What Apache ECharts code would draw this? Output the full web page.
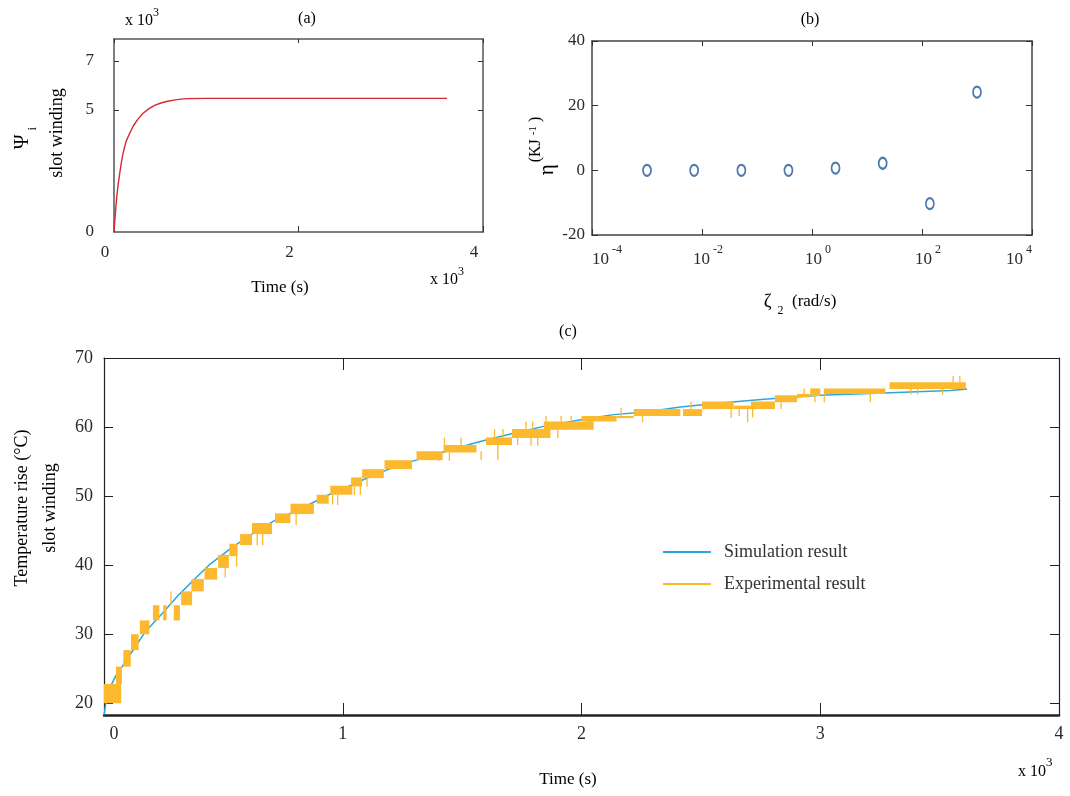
<!DOCTYPE html>
<html><head><meta charset="utf-8">
<script src="https://cdn.jsdelivr.net/npm/echarts@6/dist/echarts.min.js"></script>
<style>html,body{margin:0;padding:0;background:#fff}#c{width:1070px;height:796px}</style>
</head><body><div id="c"></div>
<script>
// ---------- data ----------
// (a) Psi_i slot winding (x10^3) vs time (x10^3 s)
const psiTime  = [0, 0.01, 0.02, 0.03, 0.045, 0.062, 0.08, 0.10, 0.13, 0.17, 0.21, 0.26, 0.315, 0.38, 0.44, 0.50, 0.58, 0.65, 0.72, 0.80, 1.0, 2.0, 3.0, 3.61];
const psiValue = [0, 0.5, 1.0, 1.45, 1.95, 2.4, 2.85, 3.25, 3.7, 4.04, 4.35, 4.62, 4.86, 5.05, 5.18, 5.27, 5.35, 5.40, 5.44, 5.46, 5.47, 5.47, 5.47, 5.47];
// (b) eta vs zeta_2 (rad/s)
const zetaValues = [0.001, 0.0072, 0.052, 0.373, 2.68, 19.3, 139, 1000];
const etaValues  = [0, 0, 0, 0, 0.7, 2.2, -10.3, 24.2];
// (c) temperature rise, time in x10^3 s
const simTime = [0, 0.01, 0.027, 0.05, 0.076, 0.118, 0.174, 0.244, 0.313, 0.383, 0.446, 0.523, 0.593, 0.662, 0.732, 0.802, 0.872, 0.941, 1.039, 1.088, 1.186, 1.297, 1.423, 1.563, 1.702, 1.842, 2.023, 2.135, 2.275, 2.414, 2.582, 2.777, 3.0, 3.238, 3.545, 3.615];
const simTemp = [18.3, 20.5, 22.4, 24.0, 25.3, 27.5, 30.4, 33.0, 35.7, 38.1, 40.2, 42.2, 43.9, 45.4, 46.8, 47.8, 49.0, 50.2, 51.6, 52.4, 53.8, 55.1, 56.4, 57.8, 59.0, 60.1, 61.2, 61.8, 62.2, 62.9, 63.5, 64.05, 64.6, 64.9, 65.3, 65.5];
// experimental record: dense toggling bands [tStart, tEnd, low, high]
const expBlocks = [
 [0.000, 0.072, 20.0, 22.8], [0.050, 0.075, 22.8, 25.3], [0.081, 0.112, 25.3, 27.7],
 [0.113, 0.145, 27.7, 30.0], [0.150, 0.190, 30.0, 32.0], [0.205, 0.232, 32.0, 34.2],
 [0.248, 0.262, 32.0, 34.2], [0.292, 0.318, 32.0, 34.2], [0.323, 0.369, 34.2, 36.2],
 [0.366, 0.418, 36.2, 38.0], [0.421, 0.474, 37.9, 39.6], [0.478, 0.523, 39.6, 41.5],
 [0.525, 0.558, 41.3, 43.1], [0.570, 0.620, 42.9, 44.5], [0.620, 0.704, 44.5, 46.1],
 [0.716, 0.781, 46.1, 47.5], [0.781, 0.879, 47.4, 48.9], [0.891, 0.941, 48.9, 50.2],
 [0.948, 1.040, 50.2, 51.5], [1.035, 1.081, 51.4, 52.7], [1.081, 1.172, 52.6, 53.9],
 [1.175, 1.290, 53.9, 55.2], [1.309, 1.418, 55.2, 56.5], [1.423, 1.560, 56.3, 57.4],
 [1.600, 1.709, 57.4, 58.5], [1.709, 1.870, 58.4, 59.7], [1.842, 2.051, 59.6, 60.8],
 [2.000, 2.147, 60.8, 61.6], [2.147, 2.219, 61.3, 61.6], [2.219, 2.414, 61.6, 62.6],
 [2.425, 2.505, 61.6, 62.6], [2.505, 2.637, 62.6, 63.7], [2.637, 2.710, 62.6, 63.1],
 [2.710, 2.810, 62.6, 63.7], [2.810, 2.903, 63.6, 64.6], [2.903, 2.958, 64.3, 64.8],
 [2.958, 3.000, 64.5, 65.6], [3.015, 3.273, 64.8, 65.6], [3.290, 3.610, 65.5, 66.5]
];
// isolated spikes [t, low, high]
const expSpikes = [
 [0.278, 34.2, 36.2], [0.505, 38.2, 41.5], [0.553, 39.8, 43.0], [0.639, 42.9, 44.5],
 [0.662, 42.9, 44.5], [0.802, 45.8, 47.4], [0.955, 48.8, 50.2], [0.976, 48.7, 50.2],
 [1.039, 51.5, 52.6], [1.046, 50.2, 51.4], [1.071, 50.2, 51.4], [1.099, 51.4, 52.6],
 [1.402, 55.1, 56.3], [1.423, 56.5, 58.5], [1.444, 55.1, 56.3], [1.493, 56.5, 58.5],
 [1.577, 55.2, 56.5], [1.633, 58.5, 59.7], [1.647, 55.2, 57.4], [1.668, 58.5, 59.7],
 [1.730, 57.4, 58.4], [1.765, 59.7, 60.8], [1.786, 57.3, 58.4], [1.793, 59.7, 60.8],
 [1.814, 57.3, 58.4], [1.849, 60.8, 61.6], [1.898, 58.4, 59.6], [1.912, 60.8, 61.6],
 [1.954, 60.8, 61.6], [2.163, 61.6, 62.75], [2.253, 60.7, 61.6], [2.456, 62.6, 63.7],
 [2.624, 61.3, 62.6], [2.658, 61.6, 62.6], [2.693, 60.7, 62.6], [2.714, 61.4, 62.6],
 [2.798, 62.6, 63.6], [2.833, 62.6, 63.6], [2.930, 64.6, 65.6], [2.975, 63.6, 64.5],
 [3.014, 63.6, 64.8], [3.207, 63.6, 64.8], [3.377, 64.7, 65.5], [3.405, 64.7, 65.5],
 [3.510, 64.7, 65.5], [3.554, 66.5, 67.4], [3.582, 66.5, 67.4]
];
const psiLabelTicks = [0, 5, 7];
const psiMarkTicks = [5, 7];
const tempTicks = [20, 30, 40, 50, 60, 70];

// ---------- chart ----------
const FONT = 'Liberation Serif';
const TXT = '#2a2a2a';
const chart = echarts.init(document.getElementById('c'));

function lbl(size, extra) { return Object.assign({fontFamily: FONT, fontSize: size, color: TXT}, extra || {}); }
function x10(lh, supSize) {
  return {text: '{t|x 10}{s|3}', align: 'left', verticalAlign: 'middle',
    rich: {t: lbl(16, {lineHeight: lh, verticalAlign: 'bottom'}), s: lbl(supSize, {lineHeight: 10, verticalAlign: 'top'})}};
}

const expData = expBlocks.concat(expSpikes.map(s => [s[0], s[0], s[1], s[2]]));

const option = {
  animation: false,
  backgroundColor: '#fff',
  grid: [
    {left: 114, top: 39, width: 369, height: 193},
    {left: 592, top: 41, width: 440, height: 194},
    {left: 104, top: 358, width: 955, height: 357}
  ],
  xAxis: [
    {gridIndex: 0, type: 'value', min: 0, max: 4, interval: 2,
     axisLine: {onZero: false, lineStyle: {color: '#555', width: 1.5}},
     axisTick: {inside: true, length: 6, lineStyle: {color: '#333'}},
     axisLabel: lbl(17, {margin: 12, padding: [0, 18, 0, 0]}), splitLine: {show: false}},
    {gridIndex: 0, type: 'value', position: 'top', min: 0, max: 4, interval: 2,
     axisLine: {onZero: false, lineStyle: {color: '#555', width: 1.5}},
     axisTick: {inside: true, length: 4, lineStyle: {color: '#333'}},
     axisLabel: {show: false}, splitLine: {show: false}},
    {gridIndex: 1, type: 'log', logBase: 10, min: 1e-4, max: 1e4, interval: 2,
     axisLine: {onZero: false, lineStyle: {color: '#444', width: 1.5}},
     axisTick: {inside: true, length: 6, lineStyle: {color: '#333'}},
     minorTick: {show: false}, splitLine: {show: false},
     axisLabel: {margin: 9, alignMinLabel: 'left', alignMaxLabel: 'right',
       formatter: function (v) {
         const e = Math.round(Math.log10(v));
         const s = e < 0 ? '-' + Math.abs(e) : String(e);
         const k = (e === -4 || e === 4) ? 'b' : 'bm';
         return '{' + k + '|10}{s|' + s + '}';
       },
       rich: {
         b: lbl(17, {lineHeight: 24, verticalAlign: 'bottom'}),
         bm: lbl(17, {lineHeight: 24, verticalAlign: 'bottom', padding: [0, 0, 0, 12]}),
         s: lbl(12, {lineHeight: 10, verticalAlign: 'top', padding: [0, 0, 0, 3]})
       }}},
    {gridIndex: 1, type: 'log', logBase: 10, min: 1e-4, max: 1e4, interval: 2, position: 'top',
     axisLine: {onZero: false, lineStyle: {color: '#444', width: 1.5}},
     axisTick: {inside: true, length: 5, lineStyle: {color: '#333'}},
     axisLabel: {show: false}, splitLine: {show: false}, minorTick: {show: false}},
    {gridIndex: 2, type: 'value', min: 0, max: 4, interval: 1,
     axisLine: {onZero: false, lineStyle: {color: '#222', width: 2.5}},
     axisTick: {inside: true, length: 12, lineStyle: {color: '#222'}},
     axisLabel: {margin: 10,
       formatter: function (v) { return v === 0 ? '{z|0}' : '{n|' + v + '}'; },
       rich: {z: lbl(18, {padding: [0, 0, 0, 20]}), n: lbl(18)}},
     splitLine: {show: false}},
    {gridIndex: 2, type: 'value', position: 'top', min: 0, max: 4, interval: 1,
     axisLine: {onZero: false, lineStyle: {color: '#222', width: 1.2}},
     axisTick: {inside: true, length: 12, lineStyle: {color: '#222'}},
     axisLabel: {show: false}, splitLine: {show: false}}
  ],
  yAxis: [
    {gridIndex: 0, type: 'value', min: 0, max: 7.9,
     axisLine: {show: true, onZero: false, lineStyle: {color: '#555', width: 1.5}},
     axisTick: {show: true, inside: true, length: 5, customValues: psiMarkTicks, lineStyle: {color: '#333'}},
     axisLabel: lbl(17, {margin: 20, customValues: psiLabelTicks}), splitLine: {show: false}},
    {gridIndex: 0, type: 'value', position: 'right', min: 0, max: 7.9,
     axisLine: {show: true, onZero: false, lineStyle: {color: '#555', width: 1.5}},
     axisTick: {show: true, inside: true, length: 5, customValues: psiMarkTicks, lineStyle: {color: '#333'}},
     axisLabel: {show: false}, splitLine: {show: false}},
    {gridIndex: 1, type: 'value', min: -20, max: 40, interval: 20,
     axisLine: {show: true, onZero: false, lineStyle: {color: '#444', width: 1.5}},
     axisTick: {show: true, inside: true, length: 6, lineStyle: {color: '#333'}},
     axisLabel: lbl(17, {margin: 7}), splitLine: {show: false}},
    {gridIndex: 1, type: 'value', position: 'right', min: -20, max: 40, interval: 20,
     axisLine: {show: true, onZero: false, lineStyle: {color: '#444', width: 1.5}},
     axisTick: {show: true, inside: true, length: 6, lineStyle: {color: '#333'}},
     axisLabel: {show: false}, splitLine: {show: false}},
    {gridIndex: 2, type: 'value', min: 18.3, max: 70,
     axisLine: {show: true, onZero: false, lineStyle: {color: '#222', width: 1.2}},
     axisTick: {show: true, inside: true, length: 9, customValues: tempTicks, lineStyle: {color: '#222'}},
     axisLabel: lbl(18, {margin: 11, customValues: tempTicks}), splitLine: {show: false}},
    {gridIndex: 2, type: 'value', position: 'right', min: 18.3, max: 70,
     axisLine: {show: true, onZero: false, lineStyle: {color: '#222', width: 1.2}},
     axisTick: {show: true, inside: true, length: 9, customValues: tempTicks, lineStyle: {color: '#222'}},
     axisLabel: {show: false}, splitLine: {show: false}}
  ],
  legend: {
    data: ['Simulation result', 'Experimental result'],
    orient: 'vertical', left: 658, top: 538, itemWidth: 48, itemHeight: 2, itemGap: 14,
    icon: 'rect', textStyle: lbl(18, {color: '#333', padding: [0, 0, 0, 8]})
  },
  series: [
    {type: 'line', xAxisIndex: 0, yAxisIndex: 0, showSymbol: false, silent: true,
     data: psiTime.map((t, i) => [t, psiValue[i]]),
     lineStyle: {color: '#d42a2f', width: 1.4}, itemStyle: {color: '#d42a2f'}},
    {type: 'scatter', xAxisIndex: 2, yAxisIndex: 2, symbol: 'emptyCircle', symbolSize: [8, 11],
     data: zetaValues.map((z, i) => [z, etaValues[i]]),
     itemStyle: {color: '#1f5a9c', borderWidth: 1.4}},
    {name: 'Simulation result', type: 'line', xAxisIndex: 4, yAxisIndex: 4, showSymbol: false,
     data: simTime.map((t, i) => [t, simTemp[i]]), z: 2,
     lineStyle: {color: '#2aa7e0', width: 1.5}, itemStyle: {color: '#2aa7e0'}},
    {name: 'Experimental result', type: 'custom', xAxisIndex: 4, yAxisIndex: 4, z: 3,
     itemStyle: {color: '#fdb92e'}, encode: {x: [0, 1], y: [2, 3]},
     data: expData,
     renderItem: function (params, api) {
       const p0 = api.coord([api.value(0), api.value(3)]);
       const p1 = api.coord([api.value(1), api.value(2)]);
       return {type: 'rect',
         shape: {x: p0[0], y: p0[1], width: Math.max(p1[0] - p0[0], 1.3), height: Math.max(p1[1] - p0[1], 1.3)},
         style: {fill: '#fdb92e'}};
     }}
  ],
  graphic: [
    {type: 'text', x: 307, y: 19, style: lbl(16, {text: '(a)', align: 'center', verticalAlign: 'middle'})},
    {type: 'text', x: 125, y: 18, style: x10(22, 12)},
    {type: 'text', x: 430, y: 277, style: x10(22, 12)},
    {type: 'text', x: 280, y: 288, style: lbl(17, {text: 'Time (s)', align: 'center', verticalAlign: 'middle'})},
    {type: 'text', x: 26, y: 138, rotation: Math.PI / 2, style: {text: '{p|Ψ}{i|i}', align: 'center', verticalAlign: 'middle',
      rich: {p: lbl(20, {lineHeight: 26, verticalAlign: 'top'}), i: lbl(13, {lineHeight: 10, verticalAlign: 'bottom', padding: [0, 0, 0, 4]})}}},
    {type: 'text', x: 57, y: 133, rotation: Math.PI / 2, style: lbl(18, {text: 'slot winding', align: 'center', verticalAlign: 'middle'})},

    {type: 'text', x: 810, y: 20, style: lbl(16, {text: '(b)', align: 'center', verticalAlign: 'middle'})},
    {type: 'text', x: 543, y: 146, rotation: Math.PI / 2, style: {text: '{e|η}{u|(KJ}{uu|-1}{u|)}', align: 'center', verticalAlign: 'middle',
      rich: {e: lbl(21, {lineHeight: 30, verticalAlign: 'bottom'}), u: lbl(16, {lineHeight: 20, verticalAlign: 'top', padding: [0, 0, 0, 2]}),
             uu: lbl(11, {lineHeight: 12, verticalAlign: 'top', padding: [0, 2, 0, 4]})}}},
    {type: 'text', x: 800, y: 305, style: {text: '{z|ζ}{n|2}{r|  (rad/s)}', align: 'center', verticalAlign: 'middle',
      rich: {z: lbl(19, {lineHeight: 24, verticalAlign: 'top'}), n: lbl(12, {lineHeight: 10, verticalAlign: 'bottom', padding: [0, 0, 0, 6]}),
             r: lbl(17, {lineHeight: 24, verticalAlign: 'top'})}}},

    {type: 'text', x: 568, y: 332, style: lbl(16, {text: '(c)', align: 'center', verticalAlign: 'middle'})},
    {type: 'text', x: 22, y: 508, rotation: Math.PI / 2, style: lbl(18, {text: 'Temperature rise (°C)', align: 'center', verticalAlign: 'middle'})},
    {type: 'text', x: 50, y: 508, rotation: Math.PI / 2, style: lbl(18, {text: 'slot winding', align: 'center', verticalAlign: 'middle'})},
    {type: 'text', x: 568, y: 780, style: lbl(17, {text: 'Time (s)', align: 'center', verticalAlign: 'middle'})},
    {type: 'text', x: 1018, y: 768, style: x10(24, 13)}
  ]
};
chart.setOption(option);
</script></body></html>
